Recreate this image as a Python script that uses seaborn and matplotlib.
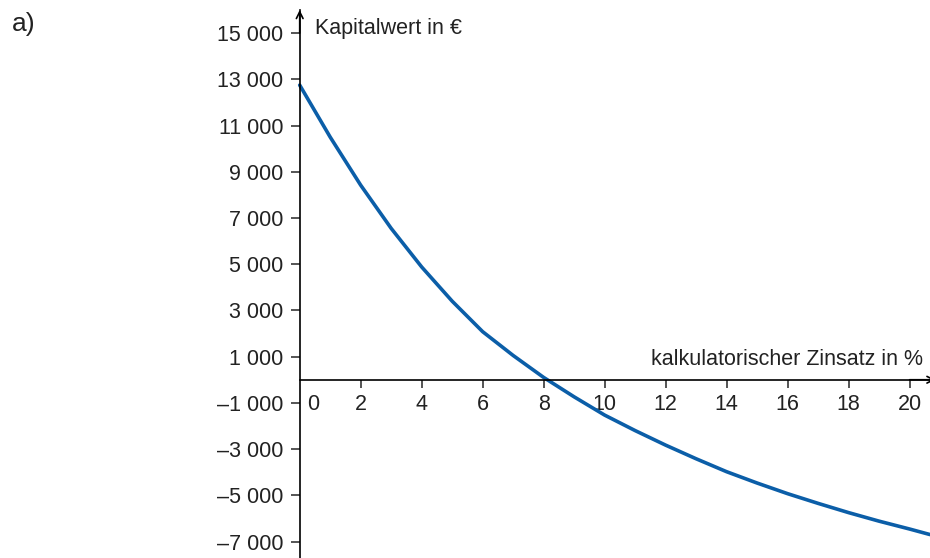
import numpy as np
import pandas as pd
import seaborn as sns
import matplotlib.pyplot as plt
from matplotlib.transforms import ScaledTranslation

# Kapitalwert in Abhaengigkeit vom kalkulatorischen Zinssatz
zinssatz = [0, 1, 2, 3, 4, 5, 6, 7, 8, 9, 10, 11, 12, 13, 14, 15, 16, 17, 18, 19, 20, 20.67]
kapitalwert = [12750, 10500, 8420, 6550, 4880, 3400, 2080, 1050, 100, -740, -1530,
               -2200, -2830, -3420, -3980, -4470, -4930, -5350, -5750, -6120, -6460, -6700]

x_ticks = [0, 2, 4, 6, 8, 10, 12, 14, 16, 18, 20]
x_tick_labels = ["0", "2", "4", "6", "8", "10", "12", "14", "16", "18", "20"]
y_ticks = [-7000, -5000, -3000, -1000, 1000, 3000, 5000, 7000, 9000, 11000, 13000, 15000]
y_tick_labels = ["–7 000", "–5 000", "–3 000", "–1 000", "1 000", "3 000", "5 000",
                 "7 000", "9 000", "11 000", "13 000", "15 000"]

df = pd.DataFrame({"Zinssatz": zinssatz, "Kapitalwert": kapitalwert})

sns.set_theme(style="white")
plt.rcParams["font.family"] = ["Liberation Sans", "DejaVu Sans"]
txt = "#222222"
fs = 15.5

fig = plt.figure(figsize=(9.3, 5.58), dpi=100)
ax = fig.add_axes([299.7 / 930, 0, 630.3 / 930, 548 / 558])

sns.lineplot(data=df, x="Zinssatz", y="Kapitalwert", ax=ax, color="#0b5ea8",
             linewidth=2.6, clip_on=False, solid_joinstyle="round")

ax.set_xlim(0, 20.67)
ax.set_ylim(-7714, 16000)

for s in ["top", "right"]:
    ax.spines[s].set_visible(False)
ax.spines["left"].set_position(("data", 0))
ax.spines["bottom"].set_position(("data", 0))
for s in ["left", "bottom"]:
    ax.spines[s].set_color("black")
    ax.spines[s].set_linewidth(1.2)

ax.set_xticks(x_ticks)
ax.set_xticklabels(x_tick_labels)
ax.set_yticks(y_ticks)
ax.set_yticklabels(y_tick_labels)
ax.tick_params(axis="y", direction="out", length=6.5, width=1.1, pad=5.5,
               labelsize=fs, labelcolor=txt, left=True)
ax.tick_params(axis="x", direction="out", length=5.5, width=1.1, pad=4.5,
               labelsize=fs, labelcolor=txt, bottom=True)
ax.xaxis.get_majorticklines()[0].set_visible(False)
lbl0 = ax.get_xticklabels()[0]
lbl0.set_transform(lbl0.get_transform() + ScaledTranslation(0.136, 0, fig.dpi_scale_trans))

ax.set_xlabel("")
ax.set_ylabel("")

# Pfeile an den Achsen
ax.annotate("", xy=(0, 16000), xytext=(0, 15000), annotation_clip=False,
            arrowprops=dict(arrowstyle="->", lw=1.2, color="black", shrinkA=0, shrinkB=0))
ax.annotate("", xy=(20.85, 0), xytext=(20.0, 0), annotation_clip=False,
            arrowprops=dict(arrowstyle="->", lw=1.2, color="black", shrinkA=0, shrinkB=0))

ax.text(0.5, 15190, "Kapitalwert in €", fontsize=fs, color=txt, va="center", ha="left")
ax.text(20.44, 640, "kalkulatorischer Zinsatz in %", fontsize=fs, color=txt,
        va="baseline", ha="right")

fig.text(12 / 930, 1 - 31 / 558, "a)", fontsize=19, color=txt, va="baseline", ha="left")

fig.savefig("out.png", dpi=100)
